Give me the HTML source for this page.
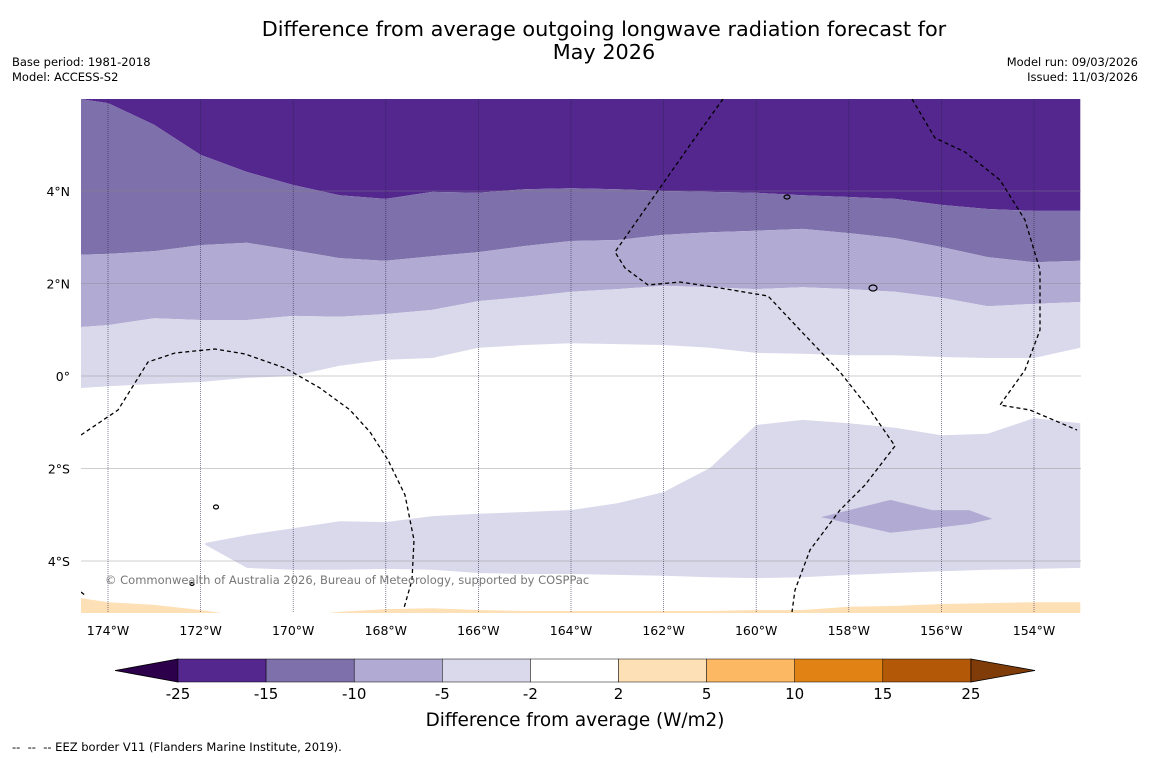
<!DOCTYPE html>
<html><head><meta charset="utf-8">
<style>
body{margin:0;background:#fff;font-family:"DejaVu Sans",sans-serif;}
#wrap{position:relative;width:1150px;height:758px;overflow:hidden;background:#fff}
.t{position:absolute;color:#000}
</style></head>
<body>
<div id="wrap">
<div class="t" style="left:0;width:1208px;top:18px;text-align:center;font-size:20.8px;line-height:23px">Difference from average outgoing longwave radiation forecast for<br>May 2026</div>
<div class="t" style="left:12px;top:55px;font-size:11.5px;line-height:15px">Base period: 1981-2018<br>Model: ACCESS-S2</div>
<div class="t" style="right:12px;top:55px;font-size:11.5px;line-height:15px;text-align:right">Model run: 09/03/2026<br>Issued: 11/03/2026</div>
<div class="t" style="left:12px;top:740px;font-size:11.5px">-- &nbsp;-- &nbsp;-- EEZ border V11 (Flanders Marine Institute, 2019).</div>
<svg id="svg" width="1150" height="758" style="position:absolute;left:0;top:0"></svg>
</div>
<script>
const lonGrid=[-174.6,-174,-173,-172,-171,-170,-169,-168,-167,-166,-165,-164,-163,-162,-161,-160,-159,-158,-157,-156,-155,-154,-153];
const latA=[5.99,5.90,5.43,4.78,4.41,4.13,3.91,3.83,3.98,3.96,4.04,4.06,4.04,4.00,3.98,3.96,3.91,3.87,3.83,3.70,3.61,3.57,3.57];
const latB=[2.62,2.64,2.70,2.83,2.88,2.72,2.55,2.49,2.59,2.68,2.81,2.92,2.94,3.05,3.11,3.14,3.18,3.09,2.98,2.79,2.57,2.46,2.49];
const latC=[1.06,1.10,1.25,1.21,1.21,1.30,1.28,1.34,1.43,1.62,1.71,1.82,1.88,1.95,1.92,1.88,1.92,1.88,1.82,1.69,1.51,1.56,1.60];
const latD=[-0.26,-0.22,-0.17,-0.13,-0.04,0,0.22,0.35,0.39,0.61,0.67,0.71,0.69,0.67,0.61,0.50,0.48,0.45,0.45,0.41,0.39,0.39,0.61];
const latOrange=[-4.80,-4.89,-4.95,-5.06,-5.2,-5.2,-5.10,-5.04,-5.02,-5.06,-5.08,-5.08,-5.08,-5.08,-5.08,-5.06,-5.06,-4.99,-4.97,-4.93,-4.91,-4.89,-4.89];
const southLons=[-171.9,-171,-170,-169,-168,-167,-166,-165,-164,-163,-162,-161,-160,-159,-158,-157,-156,-155,-154,-153];
const southTop=[-3.61,-3.44,-3.29,-3.14,-3.16,-3.03,-2.98,-2.94,-2.90,-2.75,-2.51,-1.99,-1.06,-0.95,-1.02,-1.12,-1.28,-1.25,-0.91,-1.02];
const southBot=[-3.65,-4.15,-4.19,-4.19,-4.17,-4.19,-4.26,-4.28,-4.28,-4.30,-4.32,-4.35,-4.37,-4.35,-4.30,-4.26,-4.22,-4.19,-4.17,-4.15];
const blobLons=[-158.6,-157.1,-156.2,-155.4,-154.9];
const blobTop=[-3.05,-2.68,-2.90,-2.90,-3.09];
const blobBot=[-3.05,-3.39,-3.29,-3.20,-3.09];
const lonTicks=[-174,-172,-170,-168,-166,-164,-162,-160,-158,-156,-154];
const latTicks=[4,2,0,-2,-4];
const cbLevels=["-25","-15","-10","-5","-2","2","5","10","15","25"];
const cbColors=["#54278f","#7e70aa","#b1aad3","#d9d9eb","#ffffff","#fee0b6","#fdb863","#e08214","#b35806"];

const svg=document.getElementById('svg');const NS='http://www.w3.org/2000/svg';
const FONT='DejaVu Sans, sans-serif';
const X0=81,X1=1081,Y0=99,Y1=613;
const xs=lon=>108+(lon+174)*46.3;
const ys=lat=>376-lat*46.25;
function mk(tag,attrs,parent){const e=document.createElementNS(NS,tag);for(const k in attrs)e.setAttribute(k,attrs[k]);(parent||svg).appendChild(e);return e;}
const defs=mk('defs',{});const cp=mk('clipPath',{id:'clip'},defs);mk('rect',{x:X0,y:Y0,width:X1-X0,height:Y1-Y0},cp);
const g=mk('g',{'clip-path':'url(#clip)'});
function pts(lons,lats){return lons.map((l,i)=>xs(l).toFixed(1)+','+ys(lats[i]).toFixed(1));}
function band(top,bot,color,name){
  let p=pts(lonGrid,top).concat(pts(lonGrid,bot).reverse());
  const e=mk('polygon',{points:p.join(' '),fill:color},g);
  
  
}
mk('rect',{x:X0,y:Y0,width:1000,height:514,fill:'#fff'},g);
const topEdge=lonGrid.map(()=>7),botEdge=lonGrid.map(()=>-6);
band(topEdge,latA,cbColors[0],'band-minus15-to-minus25');
band(latA,latB,cbColors[1],'band-minus10-to-minus15');
band(latB,latC,cbColors[2],'band-minus5-to-minus10');
band(latC,latD,cbColors[3],'band-minus2-to-minus5');
band(latOrange,botEdge,cbColors[5],'band-2-to-5');
{const p=pts(southLons,southTop).concat(pts(southLons,southBot).reverse());
 const e=mk('polygon',{points:p.join(' '),fill:cbColors[3]},g);
 
 }
{const p=pts(blobLons,blobTop).concat(pts(blobLons,blobBot).reverse());
 const e=mk('polygon',{points:p.join(' '),fill:cbColors[2]},g);
 
 }
latTicks.forEach(l=>{const e=mk('line',{x1:X0,x2:X1,y1:ys(l),y2:ys(l),stroke:'#888',"stroke-width":0.6,opacity:0.8},g);
 });
lonTicks.forEach(l=>{const e=mk('line',{x1:xs(l),x2:xs(l),y1:Y0,y2:Y1,stroke:'#224',"stroke-width":0.7,"stroke-dasharray":'1,1',opacity:0.8},g);
 });
const eez=["M81,435 L118,410 L148,362 L175,353 L215,349 L245,354 L285,368 L320,388 L350,410 L370,432 L388,460 L405,495 L414,540 L412,580 L404,608",
"M723,99 L690,145 L655,195 L615,252 L625,268 L648,285 L680,282 L720,288 L768,296 L800,330 L840,372 L870,410 L895,446 L865,485 L840,510 L810,550 L795,590 L792,612",
"M912,99 L935,138 L965,152 L1000,180 L1025,220 L1040,270 L1040,330 L1025,370 L1000,405 L1030,410 L1077,430","M81,592 L86,596"];
eez.forEach(d=>{const e=mk('path',{d:d,fill:'none',stroke:'#000',"stroke-width":1.3,"stroke-dasharray":'4,3'},g);
 });
[[787,197,3,2],[873,288,4,3],[216,507,2.5,2],[192,584,2,1.5]].forEach(a=>{const e=mk('ellipse',{cx:a[0],cy:a[1],rx:a[2],ry:a[3],fill:'none',stroke:'#000',"stroke-width":1.2},g);
 });
{const e=mk('text',{x:105,y:584,"font-size":11.5,fill:'#777',"font-family":FONT},g);e.textContent='© Commonwealth of Australia 2026, Bureau of Meteorology, supported by COSPPac';
 }
lonTicks.forEach(l=>{const e=mk('text',{x:xs(l),y:635,"font-size":12.5,"text-anchor":'middle',"font-family":FONT});
 e.textContent=Math.abs(l)+'°W';});
latTicks.forEach(l=>{const e=mk('text',{x:70,y:ys(l)+5,"font-size":12.5,"text-anchor":'end',"font-family":FONT});
 e.textContent=l===0?'0°':Math.abs(l)+'°'+(l>0?'N':'S');});
const cbX=178,cbW=88.1,cbY=659,cbH=23;
{const e=mk('polygon',{points:`115,${cbY+cbH/2} ${cbX},${cbY} ${cbX},${cbY+cbH}`,fill:'#2d004b',stroke:'#000',"stroke-width":0.8});
 }
cbColors.forEach((c,i)=>{const e=mk('rect',{x:cbX+i*cbW,y:cbY,width:cbW,height:cbH,fill:c,stroke:'#000',"stroke-width":0.5});
 });
{const xe=cbX+cbColors.length*cbW;const e=mk('polygon',{points:`${xe},${cbY} 1035,${cbY+cbH/2} ${xe},${cbY+cbH}`,fill:'#7f3b08',stroke:'#000',"stroke-width":0.8});
 }
cbLevels.forEach((t,i)=>{const e=mk('text',{x:cbX+i*cbW,y:699,"font-size":15,"text-anchor":'middle',"font-family":FONT});
 e.textContent=t;});
{const e=mk('text',{x:575,y:726,"font-size":18.4,"text-anchor":'middle',"font-family":FONT});
 e.textContent='Difference from average (W/m2)';}
</script>
</body></html>
